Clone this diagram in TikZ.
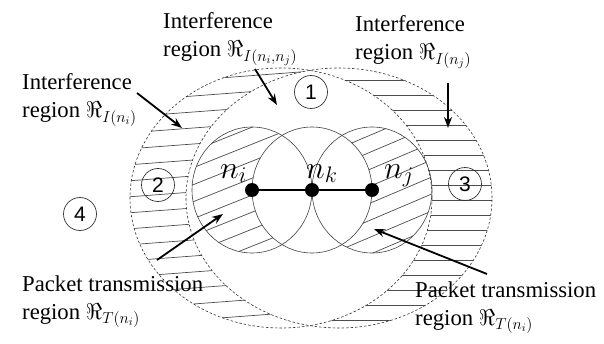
\RequirePackage{fix-cm}
\documentclass[tikz,border=0pt]{standalone}
\usepackage{fontspec}
\setmainfont{Liberation Serif}
\setsansfont{Liberation Sans}
\usetikzlibrary{arrows.meta}

\tikzset{
  region/.style={draw=black!75,line width=0.6pt},
  zone/.style={draw=black!80,dash pattern=on 2.5pt off 2pt,line width=0.6pt},
  hatch/.style={black!70,line width=0.7pt},
  tag/.style={circle,draw=black!80,line width=0.7pt,minimum size=33pt,inner sep=0pt,
    font=\sffamily\fontsize{21}{21}\selectfont},
  caption/.style={align=left,anchor=base west,inner sep=0pt,font=\fontsize{22.7}{28}\selectfont},
  pointer/.style={-{Stealth[length=11pt,width=8pt]},line width=1.8pt},
  dot/.style={circle,fill=black,minimum size=14pt,inner sep=0pt},
  nlabel/.style={anchor=base west,inner sep=0pt,font=\fontsize{32}{32}\selectfont}
}

\begin{document}
\begin{tikzpicture}[x=1pt,y=1pt]
  \useasboundingbox (0,0) rectangle (604,343);
  \coordinate (pi) at (252,153);
  \coordinate (pk) at (312,153);
  \coordinate (pj) at (372,153);
  \coordinate (ci) at (281,145);
  \coordinate (cj) at (339,145);

  % hatching of the interference crescents
  \begin{scope}[even odd rule]
    \clip (ci) ellipse [x radius=151,y radius=130];
    \clip (ci) ellipse [x radius=151,y radius=130]
      (cj) ellipse [x radius=153,y radius=130];
    \foreach \y in {0,16,...,352} \draw[hatch] (100,\y) -- ++(400,30);
  \end{scope}
  \begin{scope}[even odd rule]
    \clip (cj) ellipse [x radius=153,y radius=130];
    \clip (ci) ellipse [x radius=151,y radius=130]
      (cj) ellipse [x radius=153,y radius=130];
    \foreach \y in {8,23,...,338} \draw[hatch] (180,\y) -- (520,\y);
  \end{scope}

  % hatching of the transmission crescents
  \begin{scope}[even odd rule]
    \clip (pi) ellipse [x radius=60,y radius=63];
    \clip (pi) ellipse [x radius=60,y radius=63]
      (pk) ellipse [x radius=60,y radius=63];
    \foreach \y in {0,17,...,220} \draw[hatch] (180,\y) -- ++(200,80);
  \end{scope}
  \begin{scope}[even odd rule]
    \clip (pj) ellipse [x radius=60,y radius=63];
    \clip (pj) ellipse [x radius=60,y radius=63]
      (pk) ellipse [x radius=60,y radius=63];
    \foreach \y in {-60,-43,...,220} \draw[hatch] (300,\y) -- ++(200,85);
  \end{scope}

  \draw[zone] (ci) ellipse [x radius=151,y radius=130];
  \draw[zone] (cj) ellipse [x radius=153,y radius=130];
  \foreach \c in {pi,pk,pj}
    \draw[region] (\c) ellipse [x radius=60,y radius=63];

  \node[dot] (ni) at (pi) {};
  \node[dot] (nk) at (pk) {};
  \node[dot] (nj) at (pj) {};
  \draw[line width=1.6pt] (ni) -- (nk) -- (nj);

  \node[nlabel] (lbli) at (220,165) {$n_i$};
  \node[nlabel] (lblk) at (306,165) {$n_k$};
  \node[nlabel] (lblj) at (384,165) {$n_j$};

  \node[tag] (one) at (311,251) {1};
  \node[tag] (two) at (158,158) {2};
  \node[tag] (three) at (465,159) {3};
  \node[tag] (four) at (80,129) {4};

  % captions, placed by the baseline of their second line
  \node[caption] (capIij) at (163,286) {Interference\\region $\Re_{I(n_i,n_j)}$};
  \node[caption] (capIi) at (22,225) {Interference\\region $\Re_{I(n_i)}$};
  \node[caption] (capIj) at (355,283) {Interference\\region $\Re_{I(n_j)}$};
  \node[caption] (capTi) at (22,24) {Packet transmission\\region $\Re_{T(n_i)}$};
  \node[caption] (capTj) at (415,18) {Packet transmission\\region $\Re_{T(n_i)}$};

  % pointers from the captions
  \coordinate (a1) at (137,250); \coordinate (b1) at (182,215);
  \coordinate (a2) at (255,274); \coordinate (b2) at (277,238);
  \coordinate (a3) at (448,260); \coordinate (b3) at (448,215);
  \coordinate (a4) at (157,83);  \coordinate (b4) at (223,129);
  \coordinate (a5) at (487,69);  \coordinate (b5) at (374,114);
  \foreach \k in {1,...,5} \draw[pointer] (a\k) -- (b\k);
\end{tikzpicture}
\end{document}
